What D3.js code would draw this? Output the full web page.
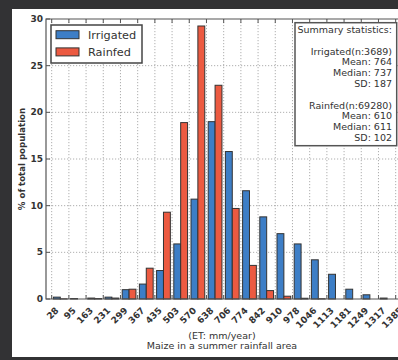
<!DOCTYPE html>
<html>
<head>
<meta charset="utf-8">
<script src="https://cdn.jsdelivr.net/npm/d3@7/dist/d3.min.js"></script>
<style>
  html, body { margin: 0; padding: 0; background: #323234; }
  svg { display: block; }
  text { font-family: "DejaVu Sans", sans-serif; fill: #333; }
</style>
</head>
<body>
<svg id="chart" width="398" height="360"></svg>
<script>
// ET bin labels (mm/year)
const categories = ["28","95","163","231","299","367","435","503","570","638","706",
                    "774","842","910","978","1046","1113","1181","1249","1317","1385"];
// % of total population per bin
const irrigated = [0.2, 0.05, 0.1, 0.2, 1.0, 1.6, 3.05, 5.9, 10.7, 19.0, 15.8,
                   11.6, 8.8, 7.0, 5.9, 4.2, 2.65, 1.05, 0.45, 0.1, 0];
const rainfed   = [0.02, 0, 0.05, 0.1, 1.05, 3.3, 9.3, 18.9, 29.25, 22.9, 9.7,
                   3.6, 0.9, 0.3, 0.08, 0.03, 0, 0, 0, 0, 0];
const seriesNames = ["Irrigated", "Rainfed"];
const seriesColors = ["#3d7ec6", "#ec5a41"];
const yTicks = [0, 5, 10, 15, 20, 25, 30];
const statsLines = ["Summary statistics:", "", "Irrigated(n:3689)", "Mean: 764", "Median: 737", "SD: 187",
                    "", "Rainfed(n:69280)", "Mean: 610", "Median: 611", "SD: 102"];
const xTitleLines = ["(ET: mm/year)", "Maize in a summer rainfall area"];
const yTitle = "% of total population";

const svg = d3.select("#chart");

// white figure panel
svg.append("rect").attr("x", 12).attr("y", 9).attr("width", 386).attr("height", 348).attr("fill", "#fff");

const plotLeft = 46, plotTop = 19, plotBottom = 299;
const x = d3.scaleLinear().domain([-0.33, 20.6]).range([plotLeft, plotLeft + 20.93 * 17.2]);
const y = d3.scaleLinear().domain([0, 30]).range([plotBottom, plotTop]);
const plotRight = x(20.6);

const g = svg.append("g");

// dotted grid
g.append("g").selectAll("line").data(d3.range(categories.length)).join("line")
  .attr("x1", i => x(i)).attr("x2", i => x(i)).attr("y1", plotTop).attr("y2", plotBottom)
  .attr("stroke", "#9a9a9a").attr("stroke-width", 0.8).attr("stroke-dasharray", "1.2,1.8");
g.append("g").selectAll("line").data(yTicks.slice(1, -1)).join("line")
  .attr("x1", plotLeft).attr("x2", plotRight).attr("y1", d => y(d)).attr("y2", d => y(d))
  .attr("stroke", "#9a9a9a").attr("stroke-width", 0.8).attr("stroke-dasharray", "1.2,1.8");

// bars
const series = [irrigated, rainfed];
series.forEach((vals, s) => {
  g.append("g").selectAll("rect").data(vals).join("rect")
    .attr("x", (d, i) => x(i + 0.1 + 0.4 * s))
    .attr("width", x(0.4) - x(0))
    .attr("y", d => y(d))
    .attr("height", d => y(0) - y(d))
    .attr("fill", seriesColors[s])
    .attr("stroke", "#333").attr("stroke-width", 1);
});

// frame
g.append("path")
  .attr("d", `M${plotRight},${plotTop}H${plotLeft}V${plotBottom}H${plotRight}`)
  .attr("fill", "none").attr("stroke", "#555").attr("stroke-width", 1.2);

// inward tick marks
g.append("g").selectAll("path").data(d3.range(categories.length)).join("path")
  .attr("d", i => `M${x(i)},${plotTop}v4M${x(i)},${plotBottom}v-4`)
  .attr("stroke", "#555").attr("stroke-width", 1);
g.append("g").selectAll("path").data(yTicks).join("path")
  .attr("d", d => `M${plotLeft},${y(d)}h4`)
  .attr("stroke", "#555").attr("stroke-width", 1);

// y tick labels
g.append("g").selectAll("text").data(yTicks).join("text")
  .attr("x", plotLeft - 3).attr("y", d => y(d)).attr("dy", "0.35em")
  .attr("text-anchor", "end").attr("font-size", 9).attr("font-weight", "bold")
  .text(d => d);

// x tick labels, rotated
g.append("g").selectAll("text").data(categories).join("text")
  .attr("transform", (d, i) => `translate(${x(i + 0.5) - 1},${311}) rotate(-45)`)
  .attr("text-anchor", "end").attr("font-size", 9).attr("font-weight", "bold")
  .text(d => d);

// axis titles
svg.append("text").attr("transform", `translate(24.5,${(plotTop + plotBottom) / 2}) rotate(-90)`)
  .attr("text-anchor", "middle").attr("font-size", 8.6).attr("font-weight", "bold")
  .text(yTitle);
svg.append("g").selectAll("text").data(xTitleLines).join("text")
  .attr("x", 222).attr("y", (d, i) => 338.5 + i * 10.7)
  .attr("text-anchor", "middle").attr("font-size", 9.5)
  .text(d => d);

// legend
const lg = svg.append("g");
lg.append("rect").attr("x", 51).attr("y", 25).attr("width", 91).attr("height", 38)
  .attr("fill", "#fff").attr("stroke", "#444").attr("stroke-width", 1.5);
seriesNames.forEach((name, s) => {
  lg.append("rect").attr("x", 56).attr("y", 30.7 + s * 17.2).attr("width", 23).attr("height", 8)
    .attr("fill", seriesColors[s]).attr("stroke", "#333").attr("stroke-width", 1);
  lg.append("text").attr("x", 88).attr("y", 38.7 + s * 17.2)
    .attr("font-size", 11.3).text(name);
});

// summary statistics box
const sb = svg.append("g");
sb.append("rect").attr("x", 295).attr("y", 22.7).attr("width", 101.7).attr("height", 123)
  .attr("fill", "#fff").attr("stroke", "#555").attr("stroke-width", 1.5);
sb.selectAll("text").data(statsLines).join("text")
  .attr("x", 392).attr("y", (d, i) => 33 + i * 10.8)
  .attr("text-anchor", "end").attr("font-size", 9.5)
  .text(d => d);
</script>
</body>
</html>
